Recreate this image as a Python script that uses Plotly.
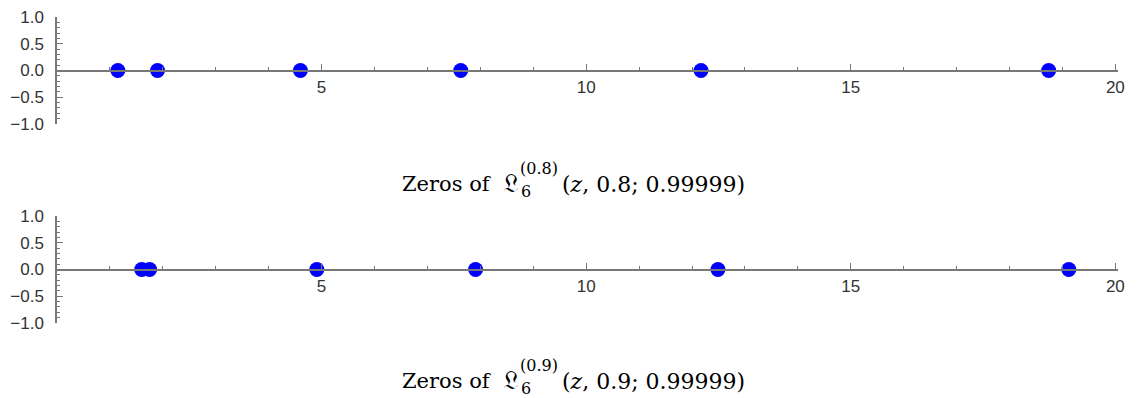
import plotly.graph_objects as go

zeros_08 = [1.15, 1.90, 4.60, 7.63, 12.17, 18.74]
zeros_09 = [1.60, 1.75, 4.91, 7.91, 12.49, 19.12]
x_ticks = [5, 10, 15, 20]
y_ticks = [-1.0, -0.5, 0.0, 0.5, 1.0]
titles = [("0.8", "(<i>z</i>, 0.8; 0.99999)"),
          ("0.9", "(<i>z</i>, 0.9; 0.99999)")]

OFF = 8  # browser body margin
W, H = 1137 - OFF, 398 - OFF
L, R, T, B = 57 - OFF, 19, 17 - OFF, 75
PH = H - T - B
PW = W - L - R

fig = go.Figure()
fig.add_trace(go.Scatter(x=zeros_08, y=[0]*len(zeros_08), mode="markers",
                         marker=dict(size=15, color="#0000ff"), xaxis="x", yaxis="y"))
fig.add_trace(go.Scatter(x=zeros_09, y=[0]*len(zeros_09), mode="markers",
                         marker=dict(size=15, color="#0000ff"), xaxis="x2", yaxis="y2"))

tickfont = dict(family="Liberation Sans, Arial", size=17, color="#333")
axcol = "#777"

def xax(pos):
    return dict(range=[0, 20.05], anchor="free", position=pos, automargin=False,
                showline=True, linecolor=axcol, linewidth=1.5, showgrid=False, zeroline=False,
                tickvals=x_ticks, ticks="inside", ticklen=6, tickcolor=axcol,
                minor=dict(dtick=1, tick0=0, ticks="inside", ticklen=3, tickcolor=axcol),
                tickfont=tickfont, ticklabelstandoff=1, ticklabeloverflow="allow")

def yax(domain, anchor_x):
    return dict(range=[-1, 1], domain=domain, anchor=anchor_x, automargin=False,
                showline=True, linecolor=axcol, linewidth=1.5, showgrid=False, zeroline=False,
                tickvals=y_ticks, tickformat=".1f", ticks="inside", ticklen=6, tickcolor=axcol,
                minor=dict(dtick=0.1, tick0=0, ticks="inside", ticklen=3, tickcolor=axcol),
                tickfont=tickfont, ticklabelstandoff=8, ticklabeloverflow="allow")

top_dom = [1 - 107 / PH, 1]
bot_dom = [0, 107 / PH]

fig.update_layout(
    width=W, height=H, margin=dict(l=L, r=R, t=T, b=B, autoexpand=False),
    paper_bgcolor="white", plot_bgcolor="white", showlegend=False,
    xaxis=xax((top_dom[0] + top_dom[1]) / 2),
    yaxis=yax(top_dom, "x"),
    xaxis2=xax((bot_dom[0] + bot_dom[1]) / 2),
    yaxis2=yax(bot_dom, "x2"),
)

def px2xf(px):
    return (px - OFF - L) / PW

def py2yf(py):
    return (H + OFF - B - py) / PH

def ann(text, px, py, xanchor, font):
    fig.add_annotation(text=text, x=px2xf(px), y=py2yf(py), xref="paper", yref="paper",
                       xanchor=xanchor, yanchor="middle", showarrow=False, font=font)

tfont = dict(family="DejaVu Serif", size=21, color="black")
pfont = dict(family="DejaVu Serif", size=22, color="black")
gfont = dict(family="DejaVu Serif", size=26, color="black")
sfont = dict(family="DejaVu Serif", size=16, color="black")
for (sup, post), yc in zip(titles, [184, 381]):
    ann("Zeros of", 494, yc, "right", tfont)
    ann("𝔏", 520, yc - 1, "right", gfont)
    ann("6", 519, yc + 7, "left", sfont)
    ann("(" + sup + ")", 518, yc - 16, "left", sfont)
    ann(post, 560, yc, "left", pfont)

fig.write_html("out.html")
